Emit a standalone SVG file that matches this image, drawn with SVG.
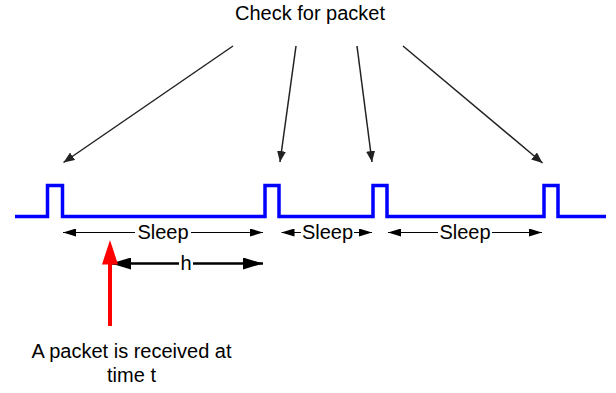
<svg xmlns="http://www.w3.org/2000/svg" width="616" height="393" viewBox="0 0 616 393">
  <defs>
    <style>
      .lbl { font-family: "Liberation Sans", Arial, sans-serif; font-size: 20px; fill: #000; text-anchor: middle; }
      .probe { stroke: #222; stroke-width: 1.5; fill: none; marker-end: url(#probeHead); }
      .spanL { stroke: #000; stroke-width: 1; fill: none; marker-start: url(#spanHead); }
      .spanR { stroke: #000; stroke-width: 1; fill: none; marker-end: url(#spanHead); }
      .hL { stroke: #000; stroke-width: 2.5; fill: none; marker-start: url(#hHead); }
      .hR { stroke: #000; stroke-width: 2.5; fill: none; marker-end: url(#hHead); }
      .wave { stroke: #0000ff; stroke-width: 3.5; fill: none; stroke-linejoin: miter; }
    </style>
    <marker id="probeHead" markerUnits="userSpaceOnUse" markerWidth="11" markerHeight="9" refX="11" refY="4.5" orient="auto">
      <path d="M0,0 L11,4.5 L0,9 z" fill="#222"/>
    </marker>
    <marker id="spanHead" markerUnits="userSpaceOnUse" markerWidth="13" markerHeight="8" refX="13" refY="4" orient="auto-start-reverse">
      <path d="M0,0 L13,4 L0,8 z" fill="#000"/>
    </marker>
    <marker id="hHead" markerUnits="userSpaceOnUse" markerWidth="20" markerHeight="12" refX="20" refY="6" orient="auto-start-reverse">
      <path d="M0,0 L20,6 L0,12 z" fill="#000"/>
    </marker>
  </defs>

  <!-- title -->
  <g id="check-label">
    <text class="lbl" x="310" y="20">Check for packet</text>
  </g>

  <!-- wake-up pulse train -->
  <g id="waveform">
    <polyline class="wave" points="15,216.5 47.5,216.5 47.5,185.5 62.5,185.5 62.5,216.5 265,216.5 265,185.5 279,185.5 279,216.5 373,216.5 373,185.5 387,185.5 387,216.5 544,216.5 544,185.5 558,185.5 558,216.5 606,216.5"/>
  </g>

  <g id="connectors">
    <!-- probes from the title to each wake-up -->
    <line class="probe" x1="233" y1="46" x2="63.5" y2="162.5"/>
    <line class="probe" x1="296" y1="46" x2="280" y2="162"/>
    <line class="probe" x1="357" y1="46" x2="372" y2="162"/>
    <line class="probe" x1="403" y1="46" x2="542.5" y2="163"/>

    <!-- sleep intervals -->
    <line class="spanL" x1="63" y1="232.5" x2="135" y2="232.5"/>
    <line class="spanR" x1="191" y1="232.5" x2="263" y2="232.5"/>
    <line class="spanL" x1="281.5" y1="232.5" x2="301" y2="232.5"/>
    <line class="spanR" x1="354" y1="232.5" x2="372" y2="232.5"/>
    <line class="spanL" x1="388" y1="232.5" x2="438" y2="232.5"/>
    <line class="spanR" x1="492" y1="232.5" x2="542" y2="232.5"/>

    <!-- h interval -->
    <line class="hL" x1="111" y1="263.5" x2="179" y2="263.5"/>
    <line class="hR" x1="193" y1="263.5" x2="263" y2="263.5"/>

    <!-- packet arrival -->
    <line x1="110" y1="326" x2="110" y2="262" stroke="#ff0000" stroke-width="4"/>
    <polygon points="102,264.5 118,264.5 110,240" fill="#ff0000"/>
  </g>

  <g id="sleep-1"><text class="lbl" x="163" y="239">Sleep</text></g>
  <g id="sleep-2"><text class="lbl" x="327.5" y="239">Sleep</text></g>
  <g id="sleep-3"><text class="lbl" x="465" y="239">Sleep</text></g>
  <g id="h-label"><text class="lbl" x="186" y="270">h</text></g>

  <g id="packet-label">
    <text class="lbl" x="131.5" y="358">A packet is received at</text>
    <text class="lbl" x="131.5" y="381.5">time t</text>
  </g>
</svg>
